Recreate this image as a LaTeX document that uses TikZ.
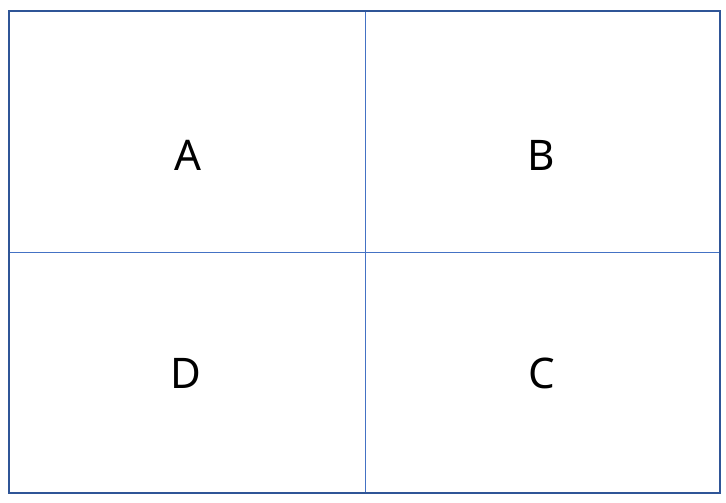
\documentclass[tikz,border=0pt]{standalone}
\usepackage{fontspec}
\setmainfont{Noto Sans}
\usepackage{xcolor}
\usepackage{tikz}
\usetikzlibrary{positioning}

\definecolor{frameblue}{HTML}{2F5597}
\definecolor{lineblue}{HTML}{4472C4}

\begin{document}
\begin{tikzpicture}[
  x=0.025cm, y=-0.025cm,
  label/.style={font=\fontsize{30}{36}\selectfont, inner sep=0pt},
  outer/.style={draw=frameblue, line width=1.4pt},
  divider/.style={draw=lineblue, line width=0.7pt}
]
\useasboundingbox (0,0) rectangle (726,502);
% grid
\coordinate (tl) at (9,11);
\coordinate (br) at (720,493);
\coordinate (top) at (365,11);
\coordinate (bot) at (365,493);
\coordinate (left) at (9,252);
\coordinate (right) at (720,252);
\draw[divider] (top) -- (bot);
\draw[divider] (left) -- (right);
\draw[outer] (tl) rectangle (br);

% labels
\node[label] (a) at (188,155) {A};
\node[label] (b) at (541,155) {B};
\node[label] (d) at (186,373) {D};
\node[label] (c) at (542,373) {C};
\end{tikzpicture}
\end{document}
